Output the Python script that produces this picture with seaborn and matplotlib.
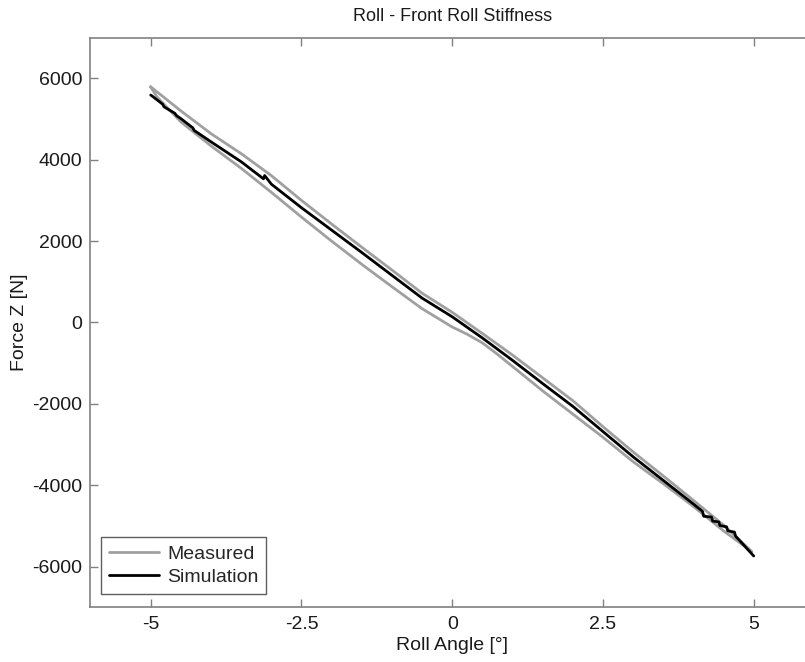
import matplotlib
matplotlib.use("Agg")
import matplotlib.pyplot as plt
import seaborn as sns
import pandas as pd

# measured hysteresis loop: upper branch -5 -> 5, then lower branch back to -5
meas_angle = [-5.0, -4.5, -4.0, -3.5, -3.0, -2.5, -2.0, -1.5, -1.0, -0.5, 0.0, 0.5, 1.0, 1.5,
              2.0, 2.5, 3.0, 3.5, 4.0, 4.5, 4.97,
              4.5, 4.0, 3.5, 3.0, 2.5, 2.0, 1.5, 1.0, 0.75, 0.5, 0.25, 0.0, -0.5, -1.0, -1.5, -2.0,
              -2.5, -3.0, -3.5, -4.0, -4.5, -4.9, -5.0]
meas_force = [5790, 5200, 4640, 4150, 3610, 3000, 2420, 1850, 1290, 720, 250, -270, -800, -1360,
              -1920, -2560, -3180, -3770, -4370, -4980, -5630,
              -5120, -4520, -3960, -3420, -2820, -2250, -1680, -1080, -780, -500, -290, -110, 340, 880, 1430, 2000,
              2590, 3200, 3790, 4340, 4930, 5550, 5790]

# simulation
sim_angle = [-5.0, -4.85, -4.8, -4.78, -4.6, -4.57, -4.5, -4.3, -4.28, -4.0, -3.5, -3.13, -3.11, -3.0,
             -2.5, -2.0, -1.5, -1.0, -0.5, 0.0, 0.5, 1.0, 1.5, 2.0, 2.5, 3.0, 3.5, 4.0,
             4.15, 4.17, 4.3, 4.32, 4.42, 4.44, 4.55, 4.57, 4.68, 4.7, 5.0]
sim_force = [5590, 5420, 5360, 5300, 5140, 5080, 5010, 4780, 4720, 4440, 3950, 3530, 3610, 3400,
             2820, 2270, 1720, 1160, 600, 140, -380, -930, -1500, -2060, -2680, -3300, -3880, -4460,
             -4640, -4760, -4780, -4880, -4900, -4990, -5020, -5120, -5150, -5250, -5737]

x_ticks = [-5, -2.5, 0, 2.5, 5]
x_tick_labels = ["-5", "-2.5", "0", "2.5", "5"]
y_ticks = [-6000, -4000, -2000, 0, 2000, 4000, 6000]

sns.set_style("white")
plt.rcParams['font.family'] = ['Liberation Sans', 'DejaVu Sans']
plt.rcParams['axes.unicode_minus'] = False

d_meas = pd.DataFrame({'angle': meas_angle, 'force': meas_force})
d_sim = pd.DataFrame({'angle': sim_angle, 'force': sim_force})

fig = plt.figure(figsize=(8.05, 6.62), dpi=100)
ax = fig.add_axes([0.1123, 0.0825, 0.8989, 0.8607])

sns.lineplot(x='angle', y='force', data=d_meas, sort=False, estimator=None,
             color='#a0a0a0', lw=2.0, ax=ax, label='Measured')
sns.lineplot(x='angle', y='force', data=d_sim, sort=False, estimator=None,
             color='black', lw=2.0, ax=ax, label='Simulation')

ax.set(xlim=(-6, 6), ylim=(-7000, 7000))
ax.set_xticks(x_ticks)
ax.set_xticklabels(x_tick_labels)
ax.set_yticks(y_ticks)
ax.tick_params(direction='in', length=6, width=1, color='#808080', labelsize=14,
               labelcolor='#1a1a1a', bottom=True, left=True, top=True, right=True, pad=6)
for s in ax.spines.values():
    s.set_color('#808080')
    s.set_linewidth(1.2)

ax.set_xlabel("Roll Angle [°]", size=14, color='#1a1a1a', labelpad=3)
ax.set_ylabel("Force Z [N]", size=14, color='#1a1a1a', labelpad=3)
ax.set_title("Roll - Front Roll Stiffness", size=13, color='#1a1a1a', pad=12,
             family=['Liberation Sans Narrow', 'Liberation Sans'])

leg = ax.legend(loc='lower left', bbox_to_anchor=(0.0146, 0.0235), borderaxespad=0,
                fancybox=False, framealpha=1, edgecolor='#606060', fontsize=14,
                handlelength=2.6, handletextpad=0.4, borderpad=0.4, labelspacing=0.3)
leg.get_frame().set_linewidth(1.0)

fig.savefig('out.png', dpi=100)
